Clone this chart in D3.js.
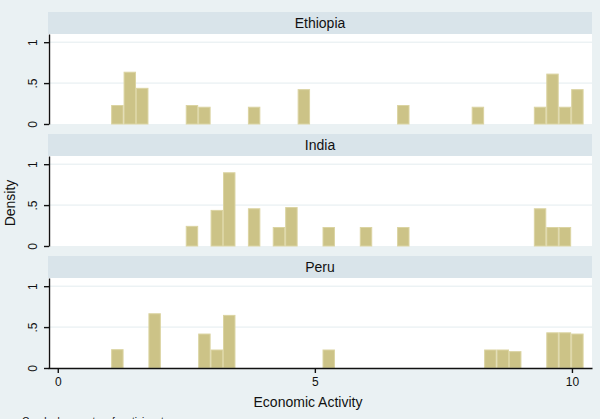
<!DOCTYPE html>
<html>
<head>
<meta charset="utf-8">
<title>Economic Activity by country</title>
<style>
  body { margin: 0; background: #eaf1f3; }
  svg { display: block; font-family: "Liberation Sans", Arial, sans-serif; }
  .strip { fill: #d9e4ea; }
  .plotbg { fill: #ffffff; }
  .grid { stroke: #e3ecef; stroke-width: 1; }
  .bar { fill: #ccc387; stroke: #dbd4a2; stroke-width: 1; }
  .axis path, .axis line { stroke: #111; stroke-width: 1.4; }
  .axis text { font-size: 12px; fill: #111; }
  .title { font-size: 14px; fill: #111; }
</style>
</head>
<body>
<script src="https://d3js.org/d3.v7.min.js"></script>
<script>
// histogram values (bin left edge, density)
var countries = ["Ethiopia", "India", "Peru"];
var binWidth = 0.2418;

var ethiopiaLeft    = [1.038, 1.280, 1.522, 2.489, 2.731, 3.698, 4.665, 6.599, 8.050, 9.259, 9.501, 9.743, 9.985];
var ethiopiaDensity = [0.226, 0.633, 0.436, 0.226, 0.205, 0.205, 0.420, 0.226, 0.205, 0.205, 0.610, 0.205, 0.420];

var indiaLeft    = [2.489, 2.972, 3.214, 3.698, 4.181, 4.423, 5.149, 5.874, 6.599, 9.259, 9.501, 9.743];
var indiaDensity = [0.240, 0.435, 0.895, 0.455, 0.226, 0.470, 0.226, 0.226, 0.226, 0.455, 0.226, 0.226];

var peruLeft    = [1.038, 1.763, 2.731, 2.972, 3.214, 5.149, 8.292, 8.534, 8.776, 9.501, 9.743, 9.985];
var peruDensity = [0.224, 0.663, 0.415, 0.220, 0.643, 0.220, 0.220, 0.220, 0.200, 0.430, 0.430, 0.415];

var xTicks = [0, 5, 10];
var yTicks = [0, 0.5, 1];
var yTickLabels = ["0", ".5", "1"];

var series = {
  "Ethiopia": ethiopiaLeft.map(function (l, i) { return {left: l, density: ethiopiaDensity[i]}; }),
  "India": indiaLeft.map(function (l, i) { return {left: l, density: indiaDensity[i]}; }),
  "Peru": peruLeft.map(function (l, i) { return {left: l, density: peruDensity[i]}; })
};

var W = 600, H = 419;
var plotLeft = 48, plotRight = 592;
var panelTop = 12, panelStep = 122, stripH = 22, plotH = 90;

var svg = d3.select("body").append("svg")
    .attr("width", W)
    .attr("height", H);

svg.append("rect").attr("width", W).attr("height", H).attr("fill", "#eaf1f3");

var x = d3.scaleLinear()
    .domain([-0.19, 10.39])
    .range([plotLeft, plotRight]);

countries.forEach(function (c, i) {
  var top = panelTop + i * panelStep;
  var base = top + stripH + plotH;
  var y = d3.scaleLinear()
      .domain([0, 1.1])
      .range([base, base - plotH]);

  var g = svg.append("g");

  // strip with country name
  g.append("rect").attr("class", "strip")
      .attr("x", plotLeft).attr("y", top)
      .attr("width", plotRight - plotLeft).attr("height", stripH);
  g.append("text").attr("class", "title")
      .attr("x", (plotLeft + plotRight) / 2)
      .attr("y", top + stripH / 2 + 5)
      .attr("text-anchor", "middle")
      .text(c);

  // plot region
  g.append("rect").attr("class", "plotbg")
      .attr("x", plotLeft).attr("y", top + stripH)
      .attr("width", plotRight - plotLeft).attr("height", plotH);

  g.selectAll(".grid").data(yTicks.slice(1)).enter().append("line")
      .attr("class", "grid")
      .attr("x1", plotLeft).attr("x2", plotRight)
      .attr("y1", function (d) { return y(d); })
      .attr("y2", function (d) { return y(d); });

  // bars
  g.selectAll(".bar").data(series[c]).enter().append("rect")
      .attr("class", "bar")
      .attr("x", function (d) { return x(d.left) + 0.5; })
      .attr("width", function (d) { return x(d.left + binWidth) - x(d.left) - 1; })
      .attr("y", function (d) { return y(d.density); })
      .attr("height", function (d) { return y(0) - y(d.density); });

  // y axis with vertical labels
  var ya = g.append("g").attr("class", "axis")
      .attr("transform", "translate(" + (plotLeft + 1) + ",0)")
      .call(d3.axisLeft(y).tickValues(yTicks)
        .tickFormat(function (d, k) { return yTickLabels[k]; })
        .tickSize(5).tickSizeOuter(0));
  ya.selectAll("text")
      .attr("transform", "rotate(-90)")
      .attr("x", 0).attr("y", -12).attr("dy", 0)
      .attr("text-anchor", "middle");

  if (i === countries.length - 1) {
    var xa = g.append("g").attr("class", "axis")
        .attr("transform", "translate(0," + base + ")")
        .call(d3.axisBottom(x).tickValues(xTicks).tickSize(5).tickSizeOuter(0).tickPadding(4.5));
  }
});

svg.append("text").attr("class", "title")
    .attr("x", 308).attr("y", 407)
    .attr("text-anchor", "middle")
    .text("Economic Activity");

svg.append("text").attr("class", "title")
    .attr("transform", "translate(15,203) rotate(-90)")
    .attr("text-anchor", "middle")
    .text("Density");

svg.append("text")
    .attr("x", 22).attr("y", 425)
    .style("font-size", "10px").attr("fill", "#111")
    .text("Graphs by country of participant");
</script>
</body>
</html>
